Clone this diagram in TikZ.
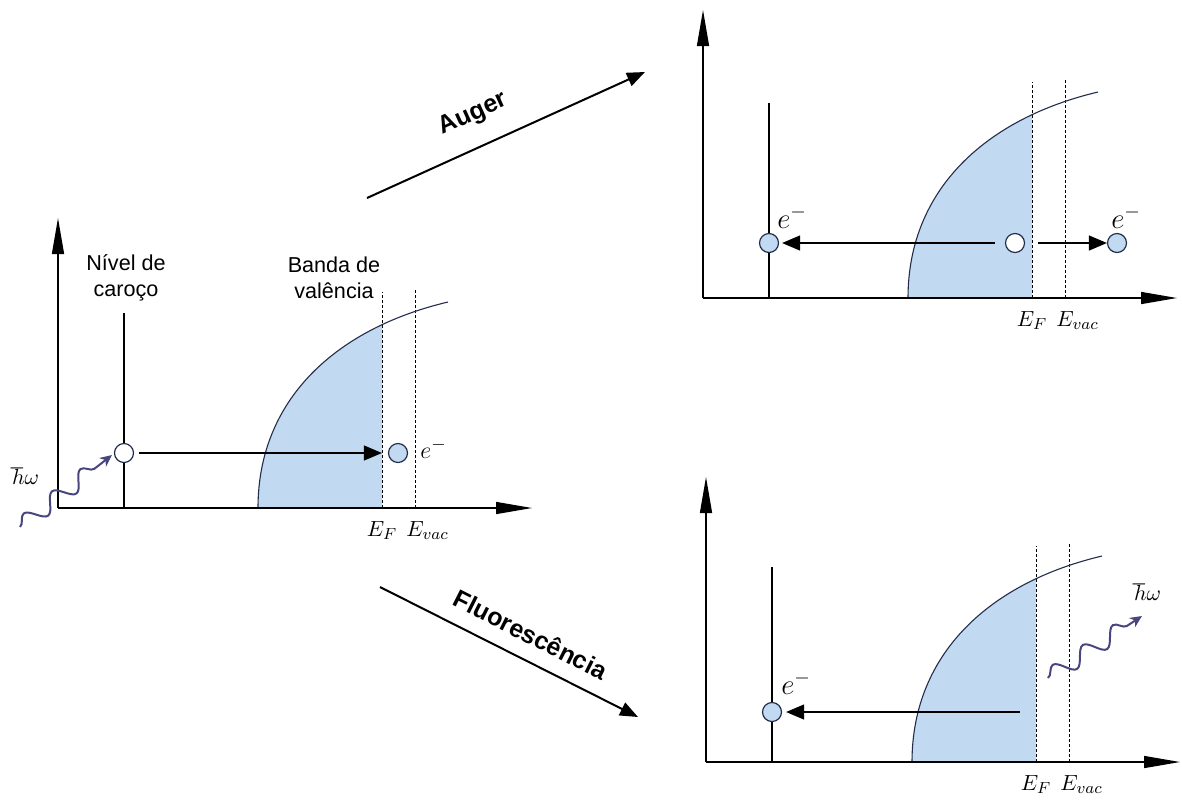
\documentclass[tikz,border=0pt]{standalone}
\usepackage{fontspec}
\setmainfont{Liberation Sans}
\usetikzlibrary{arrows.meta,positioning,decorations.pathmorphing}
\definecolor{azulbanda}{RGB}{193,218,241}
\definecolor{contorno}{RGB}{35,45,75}
\definecolor{roxofoton}{RGB}{72,70,125}
\tikzset{
  eixo/.style={line width=0.7pt,-{Triangle[length=18pt,width=6pt]}},
  nivel/.style={line width=1.2pt},
  banda/.style={line width=0.55pt,contorno},
  tracejado/.style={line width=0.4pt,dash pattern=on 1.5pt off 1pt},
  buraco/.style={circle,draw=contorno,line width=0.6pt,fill=white,minimum size=9.5pt,inner sep=0pt},
  eletron/.style={buraco,fill=azulbanda},
  transicao/.style={line width=0.6pt,-{Triangle[length=9pt,width=7.5pt]}},
  processo/.style={line width=1pt,-{Triangle[length=9pt,width=7pt]}},
  foton/.style={roxofoton,line width=1pt,-{Stealth[length=6pt,width=5.5pt]},
    decorate,decoration={snake,amplitude=4.2pt,segment length=18pt,post length=4pt}},
  rotulo/.style={font=\fontsize{10.8}{13}\selectfont,align=center,inner sep=0pt},
  titulo/.style={font=\fontsize{12.5}{14}\selectfont\bfseries,inner sep=0pt},
  energia/.style={font=\fontsize{11}{13}\selectfont,inner sep=0pt},
  energiag/.style={font=\fontsize{14}{16}\selectfont,inner sep=0pt},
}
% #1 prefixo, #2 x, #3 y, #4 inicio da banda, #5 altura do eixo
\newcommand{\painel}[5]{%
  \begin{scope}[shift={(#2,#3)}]
    \begin{scope}
      \clip (#4,0) rectangle (#4+124,-250);
      \fill[azulbanda] (#4,0) .. controls (#4,-110) and (#4+80,-180) .. (#4+190,-206) -- (#4+190,0) -- cycle;
    \end{scope}
    \draw[tracejado] (#4+124,0) -- (#4+124,-216);
    \draw[tracejado] (#4+157,0) -- (#4+157,-220);
    \draw[banda] (#4,0) .. controls (#4,-110) and (#4+80,-180) .. (#4+190,-206);
    \draw[eixo] (0,0) -- (474,0);
    \draw[eixo] (0,0) -- (0,-#5);
    \draw[nivel] (66,0) -- (66,-195);
    \node[energia,anchor=base] (#1ef) at (#4+124,28) {$E_F$};
    \node[energia,anchor=base west] (#1evac) at (#4+148,28) {$E_{vac}$};
  \end{scope}}

\begin{document}
\begin{tikzpicture}[x=0.5pt,y=-0.5pt]
  \useasboundingbox (0,0) rectangle (1182,800);

  % fotoemissao
  \painel{esq}{58}{508}{200}{290}
  \node[rotulo] (lcaroco) at (126,278) {Nível de\\caroço};
  \node[rotulo] (lbanda) at (334,278) {Banda de\\valência};
  \node[buraco] (caroco) at (124,453) {};
  \node[eletron] (fotoel) at (398,453) {};
  \node[energia,font=\fontsize{12.5}{14}\selectfont,anchor=base west] (efoto) at (420,458) {$e^-$};
  \draw[transicao,shorten <=2.5pt,shorten >=3pt] (caroco) -- (fotoel);
  \coordinate (fotonin) at (20,527);
  \coordinate (fotonfim) at (112,455);
  \draw[foton] (fotonin) -- (fotonfim);
  \node[energia] (hwin) at (25,476) {$\hbar\omega$};

  % Auger
  \painel{aug}{703}{298}{205}{288}
  \node[eletron] (auger1) at (769,243) {};
  \node[buraco] (vazioA) at (1015,243) {};
  \node[eletron] (auger2) at (1117,243) {};
  \node[energiag,anchor=base west] (eaug1) at (777,228) {$e^-$};
  \node[energiag,anchor=base west] (eaug2) at (1111,228) {$e^-$};
  \draw[transicao,shorten <=5pt,shorten >=1.5pt] (vazioA) -- (auger1);
  \draw[transicao,shorten <=6.5pt] (vazioA) -- (auger2);

  % fluorescencia
  \painel{flu}{706}{762}{206}{285}
  \node[eletron] (fluor) at (772,712) {};
  \node[energiag,anchor=base west] (eflu) at (781,694) {$e^-$};
  \coordinate (origemF) at (1020,712);
  \draw[transicao,shorten >=2pt] (origemF) -- (fluor);
  \coordinate (fotonsai) at (1048,678);
  \coordinate (fotonsaifim) at (1142,616);
  \draw[foton] (fotonsai) -- (fotonsaifim);
  \node[energia] (hwout) at (1147,592) {$\hbar\omega$};

  % processos
  \coordinate (augA) at (367,198);
  \coordinate (augB) at (645,72);
  \draw[processo] (augA) -- (augB) node[titulo,pos=0.43,sloped,above=10pt] (laug) {Auger};
  \coordinate (fluA) at (380,587);
  \coordinate (fluB) at (638,717);
  \draw[processo] (fluA) -- (fluB) node[titulo,pos=0.54,sloped,above=7.5pt] (lflu) {Fluorescência};
\end{tikzpicture}
\end{document}
